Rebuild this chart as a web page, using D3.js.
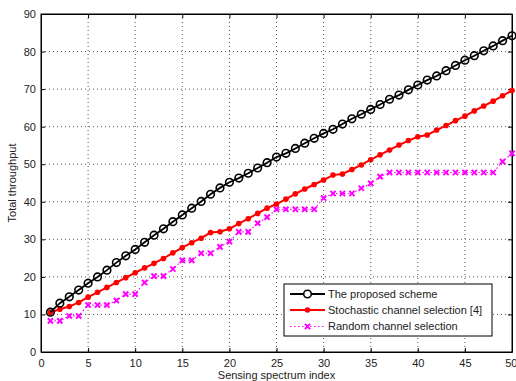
<!DOCTYPE html>
<html>
<head>
<meta charset="utf-8">
<script src="https://cdn.jsdelivr.net/npm/d3@7"></script>
<style>
  body { margin: 0; background: #fff; }
  svg { display: block; font-family: "Liberation Sans", Arial, sans-serif; }
  .tick text { font-size: 11px; fill: #222; }
</style>
</head>
<body>
<div id="chart"></div>
<script>
// x axis: sensing spectrum index 1..50
const spectrumIndex = d3.range(1, 51);

const proposedScheme = [10.6, 13.0, 14.7, 16.5, 18.3, 20.0, 21.8, 23.8, 25.6, 27.3,
  29.2, 31.1, 32.8, 34.7, 36.5, 38.3, 40.1, 42.0, 43.7, 45.2,
  46.3, 47.6, 49.0, 50.4, 51.9, 52.9, 54.2, 55.6, 56.9, 58.2,
  59.3, 60.7, 62.1, 63.3, 64.6, 65.9, 67.3, 68.4, 69.8, 71.1,
  72.4, 73.5, 74.9, 76.3, 77.7, 78.9, 80.2, 81.5, 82.9, 84.2];

const stochasticSelection = [10.6, 11.4, 12.1, 13.2, 14.6, 15.9, 17.2, 18.5, 19.8, 21.1,
  22.4, 23.6, 24.9, 26.4, 27.8, 29.1, 30.3, 31.8, 32.0, 32.8,
  34.2, 35.5, 36.9, 38.3, 39.4, 40.7, 42.1, 43.4, 44.6, 45.8,
  47.1, 47.4, 48.6, 49.8, 51.2, 52.5, 53.8, 55.1, 56.3, 57.3,
  57.8, 59.1, 60.3, 61.6, 62.8, 64.2, 65.5, 66.8, 68.2, 69.6];

const randomSelection = [8.3, 8.3, 9.6, 9.6, 12.5, 12.5, 12.5, 13.7, 15.4, 15.4,
  18.5, 20.2, 20.2, 22.1, 24.4, 24.4, 26.3, 26.3, 28.0, 29.4,
  32.0, 32.0, 34.3, 35.9, 38.0, 38.0, 38.0, 38.0, 38.0, 41.0,
  42.2, 42.2, 42.2, 43.6, 44.9, 46.7, 47.8, 47.8, 47.8, 47.8,
  47.8, 47.8, 47.8, 47.8, 47.8, 47.8, 47.8, 47.8, 50.7, 52.9];

const xTicks = d3.range(0, 51, 5);
const yTicks = d3.range(0, 91, 10);
const seriesNames = ['The proposed scheme', 'Stochastic channel selection [4]', 'Random channel selection'];

const width = 516, height = 381;
const margin = { top: 14, right: 4, bottom: 29, left: 41 };
const plotW = width - margin.left - margin.right;
const plotH = height - margin.top - margin.bottom;

const svg = d3.select('#chart').append('svg')
  .attr('width', width)
  .attr('height', height);

const g = svg.append('g')
  .attr('transform', `translate(${margin.left},${margin.top})`);

const x = d3.scaleLinear().domain([0, 50]).range([0, plotW]);
const y = d3.scaleLinear().domain([0, 90]).range([plotH, 0]);

// dotted grid
g.append('g').selectAll('line')
  .data(xTicks.slice(1, -1))
  .join('line')
  .attr('x1', d => x(d)).attr('x2', d => x(d))
  .attr('y1', 0).attr('y2', plotH)
  .attr('stroke', '#555').attr('stroke-dasharray', '1,3');

g.append('g').selectAll('line')
  .data(yTicks.slice(1, -1))
  .join('line')
  .attr('x1', 0).attr('x2', plotW)
  .attr('y1', d => y(d)).attr('y2', d => y(d))
  .attr('stroke', '#555').attr('stroke-dasharray', '1,3');

// axes, ticks pointing inward like matlab
const xAxis = g.append('g')
  .attr('transform', `translate(0,${plotH})`)
  .call(d3.axisBottom(x).tickValues(xTicks).tickSizeInner(-4).tickSizeOuter(0).tickPadding(7));
// last label sits right at the edge, keep it inside the window
xAxis.selectAll('.tick text').filter(d => d === 50)
  .attr('text-anchor', 'end').attr('dx', 5);

const yAxis = g.append('g')
  .call(d3.axisLeft(y).tickValues(yTicks).tickSizeInner(-4).tickSizeOuter(0).tickPadding(5));
g.append('g')
  .call(d3.axisTop(x).tickValues(xTicks).tickSizeInner(-4).tickSizeOuter(0).tickFormat(''));
g.append('g')
  .attr('transform', `translate(${plotW},0)`)
  .call(d3.axisRight(y).tickValues(yTicks).tickSizeInner(-4).tickSizeOuter(0).tickFormat(''));

g.selectAll('.domain').attr('stroke', '#000');
g.selectAll('.tick line').attr('stroke', '#000');

// box
g.append('rect')
  .attr('width', plotW).attr('height', plotH)
  .attr('fill', 'none').attr('stroke', '#000');

// axis labels
svg.append('text')
  .attr('x', margin.left + plotW / 2)
  .attr('y', height - 2)
  .attr('text-anchor', 'middle')
  .attr('font-size', 11)
  .attr('fill', '#222')
  .text('Sensing spectrum index');

svg.append('text')
  .attr('transform', `translate(16,${margin.top + plotH / 2}) rotate(-90)`)
  .attr('text-anchor', 'middle')
  .attr('font-size', 11)
  .attr('fill', '#222')
  .text('Total throughput');

const line = d3.line()
  .x((d, i) => x(spectrumIndex[i]))
  .y(d => y(d));

// random channel selection: dotted magenta with x markers
g.append('path')
  .datum(randomSelection)
  .attr('d', line)
  .attr('fill', 'none')
  .attr('stroke', '#ff00ff')
  .attr('stroke-width', 1.2)
  .attr('stroke-dasharray', '1.5,2.5');

g.append('g').selectAll('path')
  .data(randomSelection)
  .join('path')
  .attr('transform', (d, i) => `translate(${x(spectrumIndex[i])},${y(d)})`)
  .attr('d', 'M-2.6,-2.6L2.6,2.6M-2.6,2.6L2.6,-2.6')
  .attr('stroke', '#ff00ff')
  .attr('stroke-width', 2);

// stochastic: red solid with dot markers
g.append('path')
  .datum(stochasticSelection)
  .attr('d', line)
  .attr('fill', 'none')
  .attr('stroke', '#ff0000')
  .attr('stroke-width', 2);

g.append('g').selectAll('circle')
  .data(stochasticSelection)
  .join('circle')
  .attr('cx', (d, i) => x(spectrumIndex[i]))
  .attr('cy', d => y(d))
  .attr('r', 2.8)
  .attr('fill', '#ff0000');

// proposed: black solid with open circles
g.append('path')
  .datum(proposedScheme)
  .attr('d', line)
  .attr('fill', 'none')
  .attr('stroke', '#000')
  .attr('stroke-width', 1.8);

g.append('g').selectAll('circle')
  .data(proposedScheme)
  .join('circle')
  .attr('cx', (d, i) => x(spectrumIndex[i]))
  .attr('cy', d => y(d))
  .attr('r', 3.8)
  .attr('fill', 'none')
  .attr('stroke', '#000')
  .attr('stroke-width', 1.6);

// legend
const legend = svg.append('g').attr('transform', 'translate(284,284)');
legend.append('rect')
  .attr('width', 208).attr('height', 52)
  .attr('fill', '#fff').attr('stroke', '#000');

const rowY = [10, 26, 42.5];
const styles = [
  { color: '#000', dash: null, width: 1.8 },
  { color: '#ff0000', dash: null, width: 2 },
  { color: '#ff00ff', dash: '1.5,2.5', width: 1.2 }
];

seriesNames.forEach((name, i) => {
  const row = legend.append('g').attr('transform', `translate(0,${rowY[i]})`);
  row.append('line')
    .attr('x1', 6).attr('x2', 41)
    .attr('stroke', styles[i].color)
    .attr('stroke-width', styles[i].width)
    .attr('stroke-dasharray', styles[i].dash);
  if (i === 0) {
    row.append('circle').attr('cx', 23.5).attr('r', 3.8)
      .attr('fill', '#fff').attr('stroke', '#000').attr('stroke-width', 1.6);
  } else if (i === 1) {
    row.append('circle').attr('cx', 23.5).attr('r', 2.8).attr('fill', '#ff0000');
  } else {
    row.append('path')
      .attr('transform', 'translate(23.5,0)')
      .attr('d', 'M-2.6,-2.6L2.6,2.6M-2.6,2.6L2.6,-2.6')
      .attr('stroke', '#ff00ff').attr('stroke-width', 2);
  }
  row.append('text')
    .attr('x', 44)
    .attr('dy', '0.35em')
    .attr('font-size', 11)
    .attr('fill', '#222')
    .text(name);
});
</script>
</body>
</html>
